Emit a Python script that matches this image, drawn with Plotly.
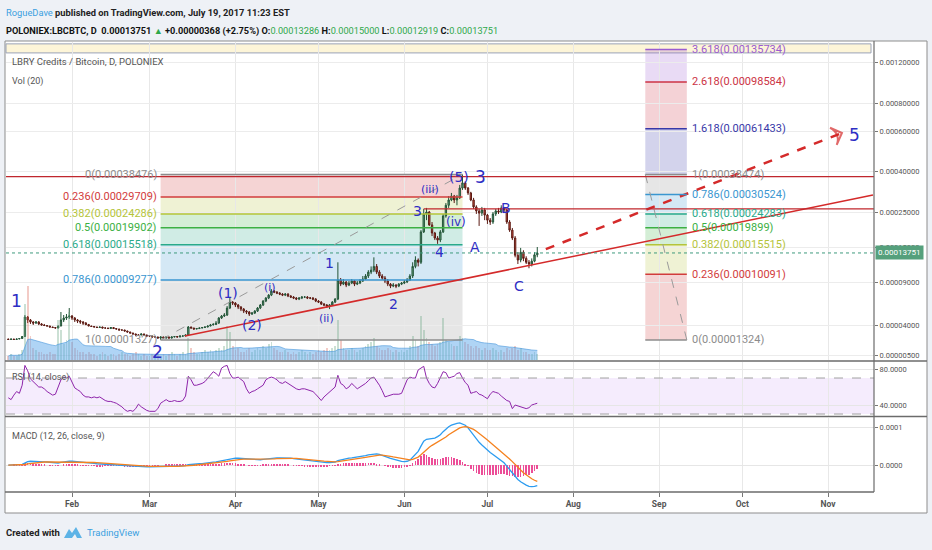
import numpy as np
import pandas as pd
import plotly.graph_objects as go

FONT = "Roboto, Liberation Sans, sans-serif"
WAVE_FONT = "DejaVu Sans, sans-serif"

# daily LBC/BTC bars (Poloniex), prices in satoshi
dates = pd.date_range("2017-01-09", "2017-07-19", freq="D")
first_open_sat = 1420
close_sat = [
    1370, 1420, 1370, 1420, 1475, 1710, 4650, 4400, 4230, 4150,
    4230, 4080, 4000, 3850, 3710, 3450, 3320, 3200, 3710, 4400,
    4560, 4650, 4740, 4560, 4400, 4310, 4230, 4150, 4040, 3710,
    3580, 3450, 3320, 3450, 3200, 3200, 3080, 3320, 3080, 2970,
    2760, 2760, 2570, 2380, 2210, 2060, 1910, 1910, 2060, 1910,
    1770, 1770, 1650, 1650, 1530, 1650, 1530, 1650, 1530, 1650,
    1710, 1650, 1770, 1770, 1910, 3450, 3200, 2970, 3080, 3200,
    3320, 3450, 3710, 4000, 4040, 4150, 4560, 4740, 4830, 5510,
    6160, 6050, 5830, 5610, 5400, 5200, 5110, 4920, 5010, 5200,
    5510, 5830, 6280, 6650, 7030, 7580, 7440, 7300, 7160, 7030,
    7160, 6900, 6770, 6650, 6520, 6650, 6770, 6770, 6650, 6650,
    6520, 6280, 6160, 5940, 5830, 5720, 5830, 6160, 6520, 9270,
    8650, 9000, 8490, 8820, 9130, 8650, 8820, 9130, 9400, 9820,
    10400, 10700, 11300, 10400, 9820, 9540, 9130, 8650, 8330, 8490,
    8330, 8650, 8820, 9000, 9270, 9820, 11300, 12400, 12000, 18700,
    24300, 25000, 20700, 18400, 17100, 16600, 18700, 23600, 27000, 28700,
    30000, 28700, 29400, 32900, 34900, 32900, 31100, 28700, 26500, 25300,
    24600, 25600, 23900, 22200, 21600, 24300, 25300, 25000, 26200, 25600,
    21600, 19200, 17100, 13300, 12400, 13900, 12700, 12000, 11700, 12200,
    13383, 13751,
]
high_sat = [
    1450, 1440, 1430, 1450, 1500, 1760, 4830, 4740, 4480, 4310,
    4310, 4310, 4150, 4080, 3920, 3780, 3520, 3380, 3850, 5110,
    4830, 4920, 5510, 4830, 4650, 4480, 4400, 4310, 4230, 4080,
    3780, 3650, 3520, 3520, 3520, 3320, 3250, 3380, 3380, 3140,
    3020, 2860, 2810, 2620, 2430, 2250, 2100, 1990, 2140, 2100,
    1950, 1850, 1800, 1710, 1680, 1710, 1680, 1710, 1680, 1710,
    1770, 1770, 1850, 1850, 1990, 3710, 3520, 3250, 3200, 3320,
    3450, 3580, 3850, 4080, 4150, 4310, 4650, 4830, 5010, 5720,
    6650, 6280, 6160, 5940, 5720, 5510, 5300, 5200, 5110, 5300,
    5610, 5940, 6400, 6770, 7160, 7870, 7720, 7580, 7440, 7300,
    7300, 7300, 7030, 6900, 6770, 6770, 6900, 6900, 6900, 6770,
    6770, 6650, 6400, 6280, 6050, 5940, 5940, 6280, 6650, 12000,
    9540, 9400, 9130, 9130, 9400, 9270, 9130, 9400, 9820, 10100,
    10700, 11300, 12900, 11700, 10700, 10100, 9820, 9400, 8820, 8820,
    8650, 8820, 9000, 9270, 9540, 10100, 12000, 13100, 12700, 19200,
    25900, 26200, 25300, 21600, 18700, 17600, 19200, 24300, 27700, 30000,
    31100, 30400, 30400, 34100, 38476, 35600, 33300, 31500, 29400, 27000,
    25900, 26500, 26200, 24300, 22900, 25000, 25900, 26200, 27000, 26500,
    25900, 22200, 19800, 17600, 13900, 14800, 14300, 13100, 12400, 12700,
    13900, 15000,
]
low_sat = [
    1340, 1350, 1340, 1360, 1400, 1460, 1690, 4150, 4080, 4000,
    4080, 3960, 3850, 3710, 3580, 3320, 3200, 3080, 3140, 3650,
    4230, 4400, 4480, 4400, 4230, 4150, 4080, 4000, 3920, 3650,
    3450, 3380, 3250, 3250, 3140, 3080, 2970, 3020, 2970, 2860,
    2660, 2660, 2480, 2300, 2140, 1990, 1850, 1840, 1870, 1850,
    1710, 1700, 1590, 1590, 1470, 1327, 1420, 1470, 1470, 1470,
    1590, 1590, 1620, 1700, 1740, 1880, 3080, 2860, 2920, 3020,
    3140, 3250, 3380, 3650, 3920, 3960, 4080, 4480, 4650, 4740,
    5400, 5830, 5610, 5400, 5200, 5010, 4920, 4740, 4830, 4920,
    5110, 5400, 5720, 6160, 6520, 6900, 7300, 7160, 7030, 6900,
    6900, 6770, 6650, 6520, 6400, 6400, 6520, 6650, 6520, 6520,
    6400, 6160, 6050, 5830, 5720, 5510, 5400, 5720, 6050, 6400,
    8330, 8490, 8170, 8330, 8650, 8330, 8490, 8650, 9000, 9270,
    9540, 10100, 10400, 10100, 9540, 9270, 8820, 8330, 8020, 8170,
    8020, 8170, 8490, 8650, 8820, 9130, 9540, 11000, 11300, 11700,
    18400, 22200, 20400, 17600, 16600, 15700, 16100, 18400, 23000, 26200,
    28300, 27700, 27000, 29000, 32200, 32200, 30400, 28300, 25900, 24300,
    20400, 23600, 22200, 21000, 20700, 21000, 23600, 24300, 24600, 24600,
    21000, 18700, 16600, 12900, 11700, 12000, 12200, 11700, 11000, 11300,
    12000, 12919,
]
volume_btc = [
    2, 3, 2, 2, 3, 5, 28, 37, 12, 6,
    5, 4, 4, 3, 3, 4, 3, 3, 20, 15,
    8, 10, 24, 9, 6, 5, 4, 4, 3, 4,
    3, 3, 2, 3, 4, 3, 2, 3, 3, 2,
    3, 4, 3, 3, 2, 3, 4, 3, 2, 3,
    2, 2, 3, 2, 3, 2, 3, 2, 3, 4,
    3, 2, 3, 4, 3, 11, 6, 4, 3, 3,
    4, 5, 4, 5, 4, 5, 6, 5, 7, 17,
    14, 7, 5, 6, 4, 4, 5, 6, 4, 5,
    6, 5, 7, 6, 8, 9, 6, 5, 4, 4,
    5, 4, 3, 4, 3, 4, 5, 4, 3, 4,
    3, 4, 5, 4, 5, 6, 5, 6, 7, 20,
    10, 6, 5, 5, 6, 5, 4, 5, 6, 7,
    8, 9, 11, 7, 6, 5, 5, 6, 5, 4,
    5, 4, 5, 4, 5, 7, 12, 10, 7, 22,
    15, 11, 9, 8, 7, 8, 9, 21, 10, 9,
    8, 7, 7, 12, 11, 9, 8, 7, 6, 7,
    6, 5, 6, 5, 5, 6, 5, 4, 5, 4,
    6, 5, 6, 7, 5, 6, 4, 4, 3, 3,
    4, 3,
]
rsi = [
    48, 46, 51, 55, 53, 62, 84, 78, 69, 66,
    62, 60, 60, 58, 55, 53, 51, 52, 60, 68,
    71, 70, 72, 66, 59, 57, 55, 51, 49, 49,
    48, 49, 48, 49, 47, 45, 44, 44, 43, 42,
    40, 38, 35, 33, 34, 33, 36, 41, 38, 36,
    34, 33, 33, 33, 36, 42, 44, 46, 44, 44,
    45, 44, 44, 45, 50, 72, 68, 62, 62, 63,
    64, 66, 70, 74, 77, 75, 72, 81, 83, 84,
    75, 70, 70, 71, 68, 66, 58, 53, 55, 56,
    58, 60, 62, 68, 70, 71, 70, 68, 65, 64,
    66, 64, 62, 60, 58, 57, 58, 58, 57, 56,
    55, 52, 48, 45, 49, 52, 55, 58, 60, 73,
    64, 62, 58, 60, 64, 61, 58, 60, 62, 64,
    67, 70, 71, 67, 62, 56, 49, 50, 51, 52,
    52, 52, 53, 60, 68, 71, 70, 70, 79, 81,
    83, 70, 64, 60, 59, 64, 70, 77, 76, 70,
    71, 72, 75, 76, 70, 65, 62, 53, 54, 55,
    52, 51, 49, 47, 52, 55, 54, 53, 50, 47,
    45, 44, 36, 40, 39, 38, 37, 36, 37, 40,
    41, 42,
]
# MACD (12, 26, close, 9), in 1e-5 BTC
macd_line = [
    0.0, 0.0, 0.05, 0.1, 0.1, 0.2, 0.6, 0.9, 1.0, 1.0,
    1.0, 0.95, 0.9, 0.85, 0.8, 0.7, 0.6, 0.5, 0.55, 0.7,
    0.85, 0.95, 1.0, 1.0, 0.95, 0.9, 0.85, 0.8, 0.7, 0.6,
    0.5, 0.45, 0.35, 0.3, 0.25, 0.2, 0.15, 0.1, 0.05, 0.0,
    -0.05, -0.1, -0.2, -0.25, -0.3, -0.35, -0.4, -0.4, -0.4, -0.45,
    -0.45, -0.45, -0.45, -0.45, -0.45, -0.4, -0.4, -0.35, -0.35, -0.3,
    -0.3, -0.25, -0.25, -0.2, -0.15, 0.1, 0.2, 0.25, 0.3, 0.35,
    0.4, 0.45, 0.55, 0.65, 0.75, 0.85, 1.0, 1.15, 1.3, 1.5,
    1.75, 1.85, 1.85, 1.8, 1.75, 1.65, 1.55, 1.45, 1.4, 1.35,
    1.35, 1.4, 1.5, 1.6, 1.7, 1.8, 1.85, 1.9, 1.9, 1.9,
    1.9, 1.85, 1.8, 1.7, 1.6, 1.5, 1.4, 1.3, 1.2, 1.1,
    1.05, 0.95, 0.85, 0.75, 0.7, 0.65, 0.65, 0.7, 0.8, 1.2,
    1.4, 1.6, 1.7, 1.8, 1.9, 2.0, 2.1, 2.2, 2.35, 2.5,
    2.7, 2.85, 3.0, 2.95, 2.8, 2.6, 2.35, 2.05, 1.75, 1.5,
    1.3, 1.1, 0.95, 0.9, 1.0, 1.3, 2.0, 2.8, 3.6, 5.0,
    6.3, 6.8, 6.9, 7.0, 7.1, 7.5, 8.0, 8.8, 9.5, 10.1,
    10.5, 10.8, 11.0, 11.1, 10.9, 10.5, 9.8, 8.8, 7.8, 6.9,
    6.0, 5.3, 4.6, 3.9, 3.3, 2.8, 2.3, 1.8, 1.2, 0.6,
    -0.3, -1.2, -2.1, -3.0, -3.8, -4.4, -4.9, -5.3, -5.6, -5.7,
    -5.6, -5.4,
]
macd_signal = [
    0.0, 0.0, 0.0, 0.02, 0.05, 0.08, 0.15, 0.3, 0.4, 0.5,
    0.6, 0.7, 0.75, 0.8, 0.8, 0.8, 0.75, 0.7, 0.7, 0.7,
    0.72, 0.76, 0.8, 0.84, 0.86, 0.87, 0.87, 0.86, 0.83, 0.79,
    0.74, 0.68, 0.62, 0.56, 0.5, 0.44, 0.38, 0.32, 0.26, 0.2,
    0.15, 0.1, 0.05, 0.0, -0.05, -0.1, -0.15, -0.2, -0.24, -0.28,
    -0.31, -0.34, -0.36, -0.38, -0.4, -0.4, -0.4, -0.4, -0.39, -0.37,
    -0.36, -0.34, -0.32, -0.3, -0.27, -0.2, -0.12, -0.05, 0.02, 0.09,
    0.15, 0.21, 0.28, 0.35, 0.43, 0.51, 0.61, 0.72, 0.83, 0.96,
    1.12, 1.26, 1.38, 1.46, 1.52, 1.55, 1.55, 1.53, 1.51, 1.48,
    1.46, 1.45, 1.46, 1.49, 1.53, 1.58, 1.63, 1.69, 1.73, 1.76,
    1.79, 1.8, 1.8, 1.78, 1.75, 1.7, 1.64, 1.57, 1.5, 1.42,
    1.35, 1.27, 1.19, 1.1, 1.02, 0.95, 0.89, 0.85, 0.84, 0.91,
    1.0, 1.12, 1.23, 1.35, 1.46, 1.57, 1.67, 1.78, 1.89, 2.0,
    2.15, 2.3, 2.45, 2.55, 2.6, 2.6, 2.55, 2.45, 2.3, 2.15,
    2.0, 1.8, 1.65, 1.5, 1.4, 1.38, 1.5, 1.75, 2.1, 2.7,
    3.4, 4.1, 4.7, 5.2, 5.6, 6.0, 6.4, 6.9, 7.4, 8.0,
    8.5, 9.0, 9.4, 9.8, 10.0, 10.1, 10.0, 9.8, 9.4, 8.9,
    8.4, 7.8, 7.2, 6.6, 6.0, 5.4, 4.8, 4.2, 3.6, 3.0,
    2.3, 1.6, 0.9, 0.1, -0.6, -1.3, -2.0, -2.6, -3.1, -3.6,
    -4.0, -4.3,
]

price_ticks = [0.000005, 0.00004, 0.00009, 0.00015, 0.00025, 0.0004, 0.0006, 0.0008, 0.0012]
month_ticks = pd.date_range("2017-02-01", "2017-11-01", freq="MS")

# TradingView's squeezed price scale, pinned to its axis labels (price -> px above pane bottom)
scale_prices = [0.000001, 0.000005, 0.0000132, 0.00004, 0.00009, 0.00015, 0.00025, 0.0004, 0.0006, 0.0008, 0.0012, 0.002]
scale_heights = [-20, 5, 20, 35, 78, 113, 148, 189, 229, 257, 298, 350]


def pscale(p):
    return np.interp(np.log10(np.asarray(p, dtype=float)), np.log10(scale_prices), scale_heights)


# fib drawings: (start, end, price at level 0, price at level 1)
fib_left = ("2017-03-05", "2017-06-22", 0.0003847649, 0.0000132749)
fib_right = ("2017-08-27", "2017-09-11", 0.000013238, 0.000384743)
left_levels = [0, 0.236, 0.382, 0.5, 0.618, 0.786, 1]
right_levels = [0, 0.236, 0.382, 0.5, 0.618, 0.786, 1, 1.618, 2.618, 3.618]
fib_colors = {0: "#8c8c8c", 0.236: "#d23c3c", 0.382: "#b5c43a", 0.5: "#3cb043", 0.618: "#2aaa8a",
              0.786: "#3a96d0", 1: "#8c8c8c", 1.618: "#3838a8", 2.618: "#cc3344", 3.618: "#9a5bd0"}

waves = [
    ("1", "2017-01-12", 0.0000628, 17), ("2", "2017-03-03 17:00", 0.0000061, 17),
    ("(1)", "2017-03-29 07:00", 0.0000730, 14), ("(2)", "2017-04-07", 0.0000400, 14),
    ("(i)", "2017-04-13 12:00", 0.0000817, 11), ("(ii)", "2017-05-04", 0.0000456, 11),
    ("1", "2017-05-05", 0.0001185, 14), ("2", "2017-05-27 22:00", 0.0000594, 14),
    ("3", "2017-06-05 22:00", 0.000253, 14), ("(iii)", "2017-06-10 05:00", 0.000322, 11),
    ("4", "2017-06-13 19:00", 0.000139, 14), ("(iv)", "2017-06-19 14:00", 0.000216, 12),
    ("(5)", "2017-06-20 17:00", 0.000373, 14), ("3", "2017-06-28 14:00", 0.000373, 17),
    ("A", "2017-06-26 12:00", 0.000150, 14), ("B", "2017-07-07 17:00", 0.000262, 14),
    ("C", "2017-07-12 10:00", 0.0000833, 14), ("5", "2017-11-10 17:00", 0.000576, 17),
]

close = np.array(close_sat) / 1e8
high = np.array(high_sat) / 1e8
low = np.array(low_sat) / 1e8
open_ = np.array([first_open_sat] + close_sat[:-1]) / 1e8
vol_ma = pd.Series(volume_btc).rolling(20, min_periods=1).mean()
macd = np.array(macd_line) * 1e-5
signal = np.array(macd_signal) * 1e-5
hist = macd - signal

W, H = 932, 550
ML, MR, MT, MB = 6, 58, 42, 58
X_RANGE = ["2017-01-08 04:00", "2017-11-17 14:00"]


def fx(px):
    return (px - ML) / (W - ML - MR)


def fy(py):
    return (H - MB - py) / (H - MT - MB)


def rgba(hexc, a):
    h = hexc.lstrip("#")
    return "rgba(%d,%d,%d,%s)" % (int(h[0:2], 16), int(h[2:4], 16), int(h[4:6], 16), a)


fig = go.Figure()

up = close >= open_
fig.add_trace(go.Bar(x=dates, y=volume_btc, xaxis="x", yaxis="y4", width=0.65 * 86400000,
                     marker=dict(color=np.where(up, "rgba(107,165,131,0.35)", "rgba(215,84,66,0.3)"), line_width=0)))
fig.add_trace(go.Scatter(x=dates, y=vol_ma, xaxis="x", yaxis="y4", mode="lines", fill="tozeroy",
                         line=dict(color="rgba(70,150,220,0.6)", width=1), fillcolor="rgba(95,170,235,0.5)"))
fig.add_trace(go.Candlestick(
    x=dates, open=pscale(open_), high=pscale(high), low=pscale(low), close=pscale(close),
    xaxis="x", yaxis="y", whiskerwidth=0,
    increasing=dict(line=dict(color="#225437", width=1), fillcolor="#6ba583"),
    decreasing=dict(line=dict(color="#5b1a13", width=1), fillcolor="#d75442")))

# projection of wave 5
proj_x = ["2017-07-22 02:00", "2017-11-06"]
proj_p = [0.0001455, 0.000588]
fig.add_trace(go.Scatter(x=proj_x, y=pscale(proj_p), mode="lines+markers", xaxis="x", yaxis="y",
                         line=dict(color="#d42a2a", width=2.5, dash="dash"),
                         marker=dict(symbol=["circle", "arrow-wide-open"], size=[0, 13], angleref="previous",
                                     color="#d42a2a", line=dict(color="#d42a2a", width=2))))

fig.add_trace(go.Scatter(x=dates, y=rsi, xaxis="x", yaxis="y2", mode="lines",
                         line=dict(color="#8e24aa", width=1)))
fig.add_trace(go.Bar(x=dates, y=hist, xaxis="x", yaxis="y3", width=0.22 * 86400000,
                     marker=dict(color="#ec4d97", line_width=0)))
fig.add_trace(go.Scatter(x=dates, y=macd, xaxis="x", yaxis="y3", mode="lines",
                         line=dict(color="#2d9cf0", width=1.3)))
fig.add_trace(go.Scatter(x=dates, y=signal, xaxis="x", yaxis="y3", mode="lines",
                         line=dict(color="#f5821f", width=1.3)))

shapes = [dict(type="rect", xref="paper", yref="paper", x0=fx(5), x1=fx(927), y0=fy(513), y1=fy(41),
               fillcolor="white", line=dict(color="#8d8d8d", width=1), layer="below")]
annotations = []

# drawn box along the top
shapes.append(dict(type="rect", xref="x domain", yref="y", x0=0, x1=fx(871),
                   y0=float(pscale(0.001312)), y1=float(pscale(0.001434)),
                   fillcolor="#fdf5d8", line=dict(color="#9aa3b8", width=1), layer="below"))

# fib retracement / extension
for (start, end, p0, p1), levels, side in [(fib_left, left_levels, "left"), (fib_right, right_levels, "right")]:
    prices = [p0 + r * (p1 - p0) for r in levels]
    for i in range(1, len(levels)):
        shapes.append(dict(type="rect", xref="x", yref="y", x0=start, x1=end,
                           y0=float(pscale(prices[i - 1])), y1=float(pscale(prices[i])),
                           fillcolor=rgba(fib_colors[levels[i]], 0.22), line_width=0, layer="below"))
    for r, p in zip(levels, prices):
        shapes.append(dict(type="line", xref="x", yref="y", x0=start, x1=end, y0=float(pscale(p)),
                           y1=float(pscale(p)), line=dict(color=fib_colors[r], width=1.5)))
        annotations.append(dict(x=start if side == "left" else end, y=float(pscale(p)), xref="x", yref="y",
                                text="%g(%.8f)" % (r, p), showarrow=False,
                                xanchor="right" if side == "left" else "left", yanchor="middle",
                                xshift=-2 if side == "left" else 3,
                                font=dict(family=FONT, size=11, color=fib_colors[r])))
shapes.append(dict(type="line", xref="x", yref="y", x0=fib_left[0], x1=fib_left[1],
                   y0=float(pscale(fib_left[3])), y1=float(pscale(fib_left[2])),
                   line=dict(color="#9a9a9a", width=1, dash="dash")))
shapes.append(dict(type="line", xref="x", yref="y", x0=fib_right[0], x1=fib_right[1],
                   y0=float(pscale(fib_right[3])), y1=float(pscale(fib_right[2])),
                   line=dict(color="#9a9a9a", width=1, dash="dash")))

# trend and resistance lines
shapes.append(dict(type="line", xref="x", yref="y", x0="2017-03-13 19:00", x1="2017-11-17 05:00",
                   y0=float(pscale(0.0000177)), y1=float(pscale(0.000304)),
                   line=dict(color="#d42a2a", width=1.5)))
shapes.append(dict(type="line", xref="x domain", yref="y", x0=0, x1=1,
                   y0=float(pscale(0.000375)), y1=float(pscale(0.000375)), line=dict(color="#c0272d", width=1.3)))
shapes.append(dict(type="line", xref="x", yref="y", x0="2017-06-08", x1=X_RANGE[1],
                   y0=float(pscale(0.000259)), y1=float(pscale(0.000259)), line=dict(color="#c0272d", width=1.3)))
shapes.append(dict(type="line", xref="x domain", yref="y", x0=0, x1=1,
                   y0=float(pscale(close[-1])), y1=float(pscale(close[-1])),
                   line=dict(color="#3f9a7d", width=1, dash="dot")))

# RSI band
shapes.append(dict(type="rect", xref="x domain", yref="y2", x0=0, x1=1, y0=30, y1=70,
                   fillcolor="rgba(170,100,240,0.12)", line_width=0, layer="below"))
for lvl in (30, 70):
    shapes.append(dict(type="line", xref="x domain", yref="y2", x0=0, x1=1, y0=lvl, y1=lvl,
                       line=dict(color="#a0a0a0", width=1, dash="dash")))

# pane separators
for y_px, x_end in [(361, 927), (416.5, 927), (492, 874)]:
    shapes.append(dict(type="line", xref="paper", yref="paper", x0=fx(5), x1=fx(x_end), y0=fy(y_px), y1=fy(y_px),
                       line=dict(color="#6b6b6b", width=1.5)))
shapes.append(dict(type="line", xref="paper", yref="paper", x0=fx(874), x1=fx(874), y0=fy(492), y1=fy(41),
                   line=dict(color="#6b6b6b", width=1.2)))

# TradingView logo
logo = [(64, 538), (69, 529), (72, 533), (76, 527), (82, 538), (77, 538), (75, 534), (72, 538)]
shapes.append(dict(type="path", xref="paper", yref="paper",
                   path="M " + " L ".join("%f,%f" % (fx(a), fy(b)) for a, b in logo) + " Z",
                   fillcolor="#5db3e6", line_width=0))

for text, d, p, size in waves:
    annotations.append(dict(x=d, y=float(pscale(p)), xref="x", yref="y", text=text, showarrow=False,
                            font=dict(family=WAVE_FONT, size=size, color="#2e2ec4")))

annotations.append(dict(x=1, y=float(pscale(close[-1])), xref="paper", yref="y", text="%.8f" % close[-1],
                        showarrow=False, xanchor="left", yanchor="middle", bgcolor="#55a07c", borderpad=2,
                        xshift=1, font=dict(family=FONT, size=8, color="white")))

pane_labels = [("LBRY Credits / Bitcoin, D, POLONIEX", 62, 9.5), ("Vol (20)", 81, 9),
               ("RSI (14, close)", 378, 9), ("MACD (12, 26, close, 9)", 436, 9)]
for text, y_px, size in pane_labels:
    annotations.append(dict(x=fx(10), y=fy(y_px), xref="paper", yref="paper", text=text, showarrow=False,
                            xanchor="left", yanchor="middle", font=dict(family=FONT, size=size, color="#555")))

green = "<span style='color:#2ea84a'>%s</span>"
annotations.append(dict(x=fx(4), y=fy(12), xref="paper", yref="paper", showarrow=False, xanchor="left",
                        yanchor="middle",
                        text="<span style='color:#3b9fe0'>RogueDave</span> <b>published on TradingView.com, July 19, 2017 11:23 EST</b>",
                        font=dict(family=FONT, size=9.3, color="#222")))
annotations.append(dict(x=fx(4), y=fy(31), xref="paper", yref="paper", showarrow=False, xanchor="left",
                        yanchor="middle",
                        text="<b>POLONIEX:LBCBTC, D  0.00013751 " + green % "▲" + " +0.00000368 (+2.75%) O:</b>"
                             + green % "0.00013286" + "<b> H:</b>" + green % "0.00015000" + "<b> L:</b>"
                             + green % "0.00012919" + "<b> C:</b>" + green % "0.00013751",
                        font=dict(family=FONT, size=9.2, color="#111")))
annotations.append(dict(x=fx(4), y=fy(532), xref="paper", yref="paper", showarrow=False, xanchor="left",
                        yanchor="middle", text="<b>Created with</b>", font=dict(family=FONT, size=9.5, color="#222")))
annotations.append(dict(x=fx(85), y=fy(532), xref="paper", yref="paper", showarrow=False, xanchor="left",
                        yanchor="middle", text="TradingView", font=dict(family=FONT, size=9.5, color="#3b9fe0")))

axis_font = dict(family=FONT, size=7.5, color="#555")
fig.update_layout(
    width=W, height=H, margin=dict(l=ML, r=MR, t=MT, b=MB),
    paper_bgcolor="#eef1f6", plot_bgcolor="rgba(0,0,0,0)",
    showlegend=False, hovermode=False, barmode="overlay", bargap=0,
    shapes=shapes, annotations=annotations,
    xaxis=dict(type="date", range=X_RANGE, domain=[0, 1], anchor="y3",
               tickvals=month_ticks, ticktext=["<b>%s</b>" % m.strftime("%b") for m in month_ticks],
               showgrid=True, gridcolor="#e8e8e8", ticks="outside", ticklen=4, tickcolor="#777",
               tickfont=dict(family=FONT, size=8.5, color="#555"), zeroline=False, showline=False,
               rangeslider=dict(visible=False)),
    yaxis=dict(domain=[fy(360), fy(42)], range=[0, 318], side="right", anchor="x",
               tickvals=pscale(price_ticks), ticktext=["%.8f" % t for t in price_ticks],
               showgrid=True, gridcolor="#ececec", ticks="outside", ticklen=3, tickcolor="#777",
               tickfont=axis_font, zeroline=False),
    yaxis2=dict(domain=[fy(416), fy(362)], range=[27.8, 87.8], side="right", anchor="x",
                tickvals=[40, 80], ticktext=["40.0000", "80.0000"], showgrid=True, gridcolor="#e6e6e6",
                ticks="outside", ticklen=3, tickcolor="#777", tickfont=axis_font, zeroline=False),
    yaxis3=dict(domain=[0, fy(418)], range=[-7.1e-5, 12.4e-5], side="right", anchor="x",
                tickvals=[0, 1e-4], ticktext=["0.0000", "0.0001"], showgrid=True, gridcolor="#e6e6e6",
                ticks="outside", ticklen=3, tickcolor="#777", tickfont=axis_font, zeroline=False),
    yaxis4=dict(overlaying="y", range=[0, 159], visible=False, anchor="x"),
)

# the page's default 8px body margin would shift the fixed-size figure
fig.write_html("out.html", config={"displayModeBar": False},
               post_script="document.body.style.margin = '0px';")
